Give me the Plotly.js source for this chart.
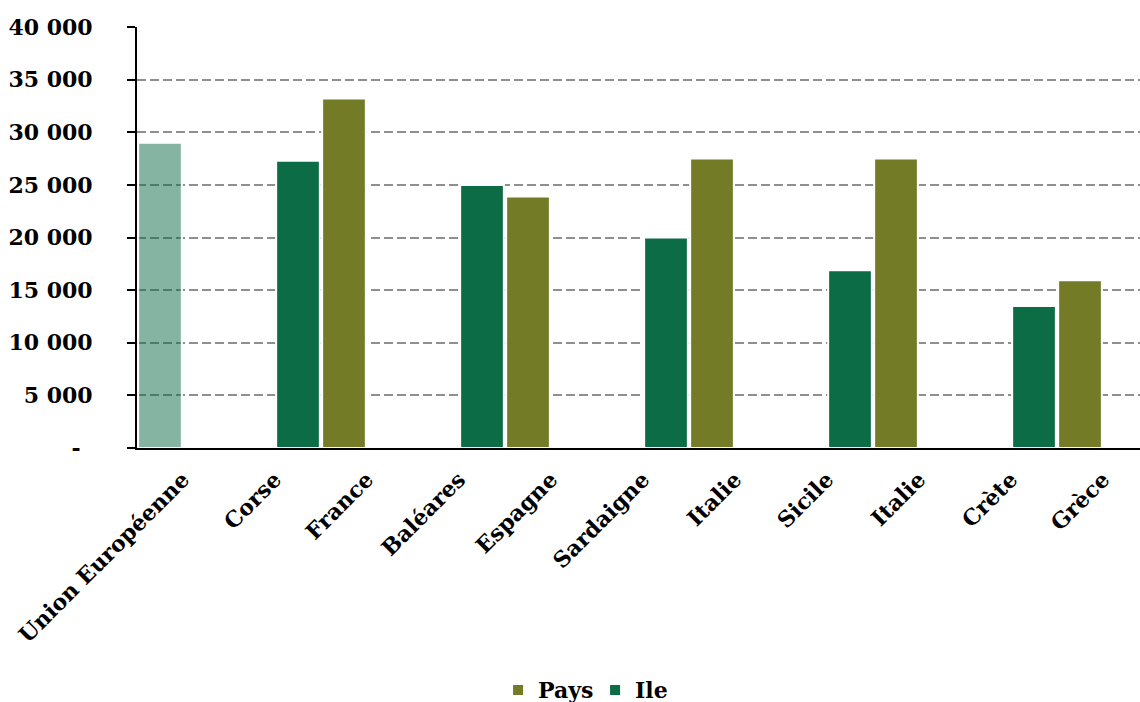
<!DOCTYPE html>
<html>
<head>
<meta charset="utf-8">
<script src="https://cdn.plot.ly/plotly-3.0.1.min.js"></script>
<style>
  html, body { margin: 0; padding: 0; background: #ffffff; }
  #chart { width: 1140px; height: 702px; }
</style>
</head>
<body>
<div id="chart"></div>
<script>
// Category labels (in order along the x axis)
var categories = ["Union Européenne", "Corse", "France", "Baléares", "Espagne",
                  "Sardaigne", "Italie", "Sicile", "Italie", "Crète", "Grèce"];

// Series values (null where the series has no bar in that category)
var ueValues   = [29000, null, null, null, null, null, null, null, null, null, null];
var paysValues = [null, null, 33200, null, 23900, null, 27500, null, 27500, null, 15950];
var ileValues  = [null, 27300, null, 25000, null, 20000, null, 16900, null, 13500, null];

// Y tick labels
var yTickVals = [0, 5000, 10000, 15000, 20000, 25000, 30000, 35000, 40000];
var yTickText = ["-\u00a0\u2009", "5 000", "10 000", "15 000", "20 000", "25 000", "30 000", "35 000", "40 000"];

var idx = categories.map(function (c, i) { return i; });

var DARK_GREEN = "rgb(12,108,70)";
var OLIVE = "rgb(116,123,39)";
var UE_FILL = "rgba(12,108,70,0.5)";
var FONT = { family: "DejaVu Serif", size: 22, color: "#000000", weight: 700 };
var BAR_LINE = { color: "#ffffff", width: 2 };

var traces = [
  {
    type: "bar", name: "Union Européenne", x: idx, y: ueValues,
    offset: -0.4875, width: 0.475, showlegend: false,
    marker: { color: UE_FILL, line: BAR_LINE },
    hoverinfo: "y"
  },
  {
    type: "bar", name: "Pays", x: idx, y: paysValues,
    offset: -0.4875, width: 0.475,
    marker: { color: OLIVE, line: BAR_LINE },
    hoverinfo: "y"
  },
  {
    type: "bar", name: "Ile", x: idx, y: ileValues,
    offset: 0.0125, width: 0.475,
    marker: { color: DARK_GREEN, line: BAR_LINE },
    hoverinfo: "y"
  }
];

var layout = {
  width: 1140, height: 702,
  paper_bgcolor: "#ffffff", plot_bgcolor: "#ffffff",
  margin: { l: 137, r: 0, t: 27, b: 254, pad: 0, autoexpand: false },
  font: FONT,
  barmode: "overlay",
  showlegend: true,
  legend: {
    orientation: "h", x: 0.36, xanchor: "left", y: -0.575, yanchor: "middle",
    font: FONT, bgcolor: "rgba(0,0,0,0)", traceorder: "normal",
    entrywidth: 52
  },
  xaxis: {
    type: "linear",
    range: [-0.5, 10.402],
    tickvals: idx, ticktext: categories,
    tickangle: -45,
    ticks: "", showgrid: false, zeroline: false,
    showline: true, linecolor: "#000000", linewidth: 2,
    ticklabelstandoff: 8,
    automargin: false,
    tickfont: FONT, fixedrange: true
  },
  yaxis: {
    range: [0, 40000],
    tickvals: yTickVals, ticktext: yTickText,
    ticks: "outside", ticklen: 8, tickwidth: 2, tickcolor: "#000000",
    ticklabelstandoff: 30,
    showline: true, linecolor: "#000000", linewidth: 2,
    showgrid: true, gridcolor: "#8f8f8f", gridwidth: 2, griddash: "9px,4px",
    zeroline: false, automargin: false,
    tickfont: FONT, fixedrange: true
  }
};

Plotly.newPlot("chart", traces, layout, { displayModeBar: false, staticPlot: true });
</script>
</body>
</html>
